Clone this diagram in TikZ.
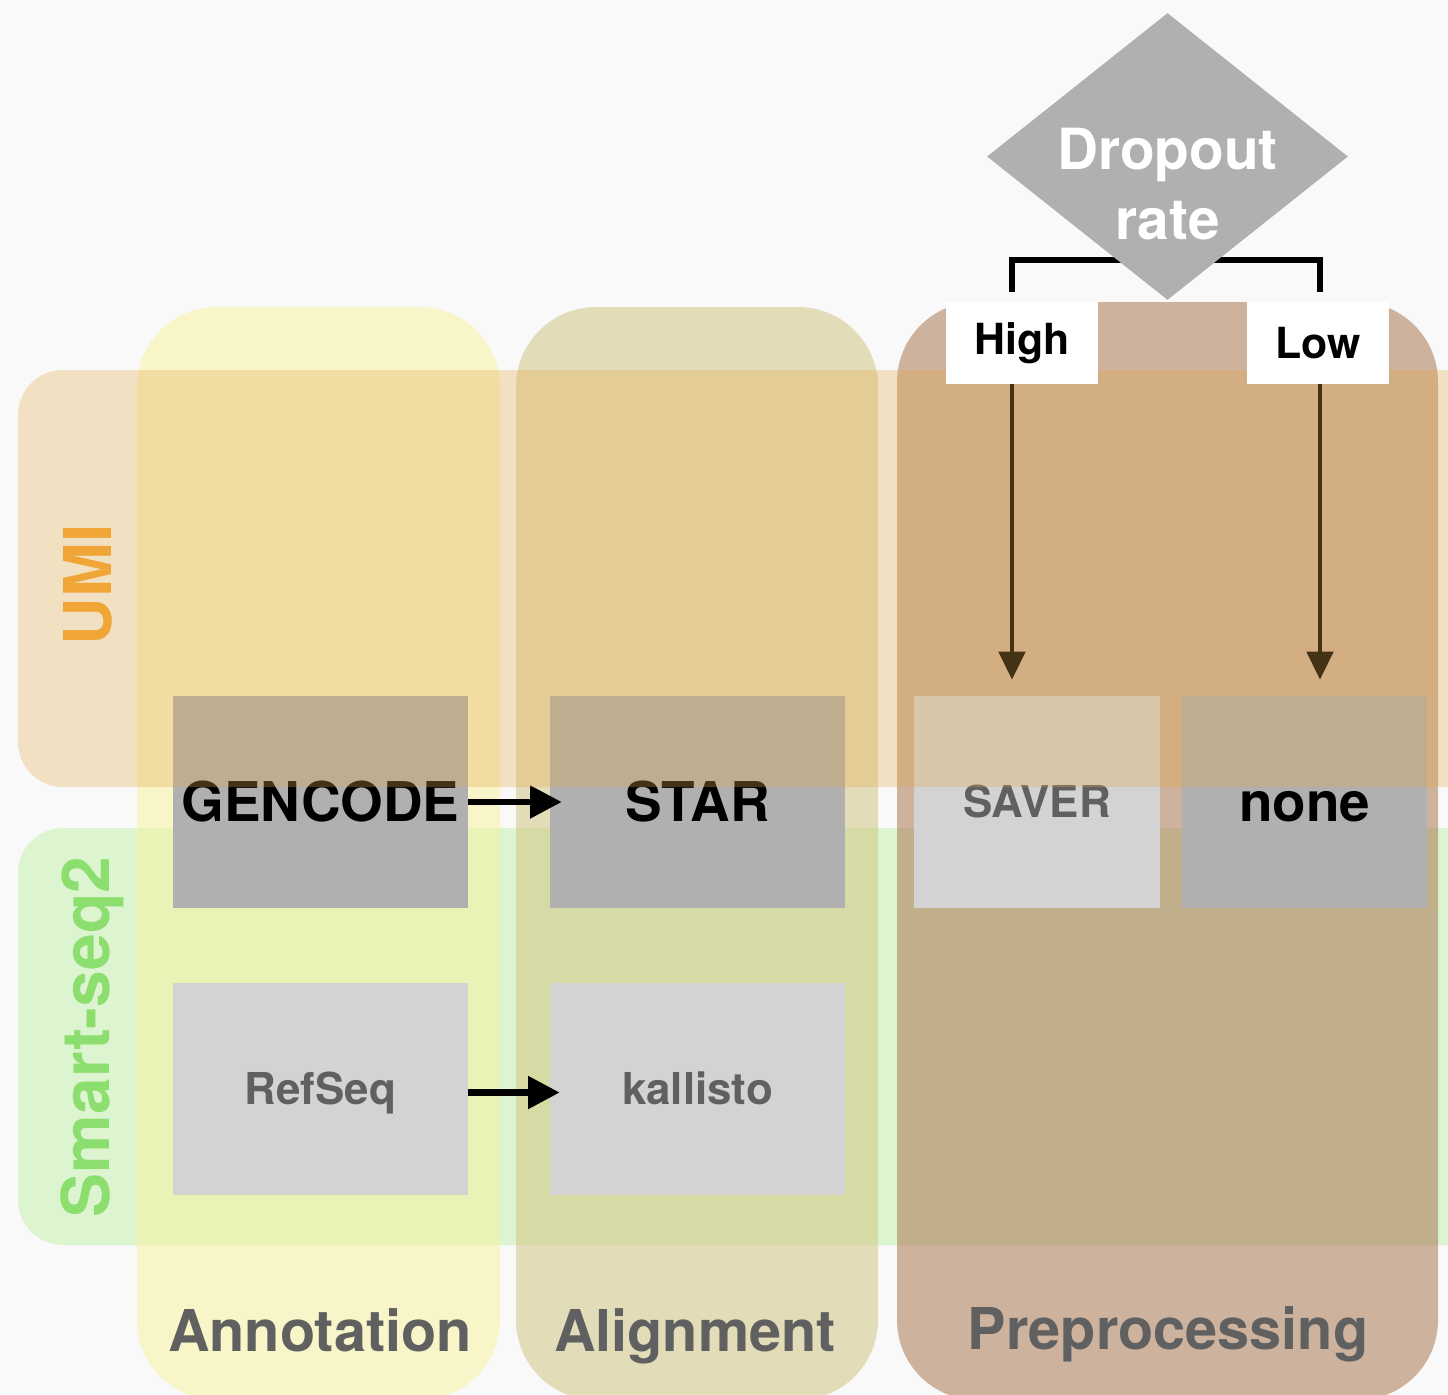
\documentclass[tikz,border=0pt]{standalone}
\usepackage{fontspec}
\setmainfont{TeX Gyre Heros}
\usepackage{xcolor}
\usepackage{tikz}
\usetikzlibrary{arrows.meta}
\usetikzlibrary{shapes.geometric}
\definecolor{bgcol}{RGB}{249,249,249}
\definecolor{umicol}{RGB}{228,168,72}
\definecolor{smartcol}{RGB}{220,244,208}
\definecolor{annocol}{RGB}{248,242,162}
\definecolor{aligncol}{RGB}{210,197,131}
\definecolor{prepcol}{RGB}{170,120,82}
\definecolor{darkbox}{RGB}{176,176,176}
\definecolor{lightbox}{RGB}{211,211,211}
\definecolor{labgray}{RGB}{96,96,96}
\definecolor{umitext}{RGB}{240,165,55}
\definecolor{smarttext}{RGB}{140,222,110}

\begin{document}
\begin{tikzpicture}[x=0.02cm, y=-0.02cm,
    column/.style={fill opacity=0.55, rounded corners=1.6cm},
    rowband/.style={rounded corners=0.9cm},
    toolbox/.style={rectangle, inner sep=0pt, minimum width=5.9cm, minimum height=4.24cm},
    prepbox/.style={toolbox, minimum width=4.92cm},
    bigtool/.style={font=\bfseries\fontsize{31.2}{36}\selectfont,
      text height=22.5pt, text depth=0pt},
    smalltool/.style={font=\bfseries\fontsize{25}{30}\selectfont, text=labgray,
      text height=18pt, text depth=0pt},
    steplabel/.style={font=\bfseries\fontsize{32.8}{38}\selectfont, text=labgray,
      text height=23.6pt, text depth=0pt},
    rowlabel/.style={font=\bfseries\fontsize{37.5}{42}\selectfont, rotate=90},
    ratebox/.style={rectangle, fill=white, inner sep=0pt, minimum height=1.64cm,
      font=\bfseries\fontsize{24.4}{28}\selectfont},
    toolarrow/.style={line width=3.6pt, -{Triangle[length=18pt, width=18pt]}},
    droparrow/.style={line width=2.3pt, -{Triangle[length=16pt, width=15pt]}},
    bracket/.style={line width=3.6pt, line join=miter}]
    \useasboundingbox (0,0) rectangle (1448,1394);
    \clip (0,0) rectangle (1448,1394);
    \fill[bgcol] (0,0) rectangle (1448,1394);

    % Smart-seq2 row
    \fill[smartcol, rowband] (18,828) rectangle (1550,1245);

    % pipeline steps
    \fill[annocol, column] (137,307) rectangle (500,1400);
    \fill[aligncol, column] (516,307) rectangle (878,1400);
    \fill[prepcol, column] (897,302) rectangle (1438,1400);

    \node[toolbox, fill=darkbox, bigtool] (gencode) at (320.5,802) {GENCODE};
    \node[toolbox, fill=darkbox, bigtool] (star) at (697.5,802) {STAR};
    \node[toolbox, fill=lightbox, smalltool] (refseq) at (320.5,1089) {RefSeq};
    \node[toolbox, fill=lightbox, smalltool] (kallisto) at (697.5,1089) {kallisto};
    \node[prepbox, fill=lightbox, smalltool] (saver) at (1037,802) {SAVER};
    \node[prepbox, fill=darkbox, bigtool] (none) at (1304.5,802) {none};

    \draw[toolarrow] (gencode.east) -- ([xshift=0.24cm]star.west);
    \draw[toolarrow] ([yshift=-2pt]refseq.east) -- ([xshift=0.2cm, yshift=-2pt]kallisto.west);

    \coordinate (brl) at (1012,260);
    \coordinate (brr) at (1320,260);
    \node[ratebox, minimum width=3.04cm] (high) at (1022,343) {};
    \node[ratebox, minimum width=2.84cm] (low) at (1318,343) {};
    \draw[droparrow] (high.south -| brl) -- ([yshift=0.32cm]saver.north -| brl);
    \draw[droparrow] (low.south -| brr) -- ([yshift=0.32cm]none.north -| brr);

    % UMI row, on top
    \fill[umicol, fill opacity=0.3, rowband] (18,370) rectangle (1550,787);

    \node[rowlabel, text=umitext] (umi) at (88,585) {UMI};
    \node[rowlabel, text=smarttext] (smart) at (92,1037) {Smart-seq2};

    \node[steplabel] (annot) at (320,1331) {Annotation};
    \node[steplabel] (align) at (695,1331) {Alignment};
    \node[steplabel] (prep) at (1168,1329) {Preprocessing};

    % dropout decision
    \draw[bracket] ([yshift=0.2cm]high.north -| brl) -- (brl) -- (brr)
      -- ([yshift=0.2cm]low.north -| brr);
    \node[diamond, fill=darkbox, inner sep=0pt, minimum width=7.22cm,
      minimum height=5.74cm] (dropout) at (1167.5,156.5) {};
    \node[align=center, text=white, font=\bfseries\fontsize{32.3}{39.5}\selectfont]
      (droptext) at (1167.5,184) {Dropout\\rate};
    \node[ratebox, minimum width=3.04cm] (hightext) at (high) {High};
    \node[ratebox, minimum width=2.84cm] (lowtext) at (low) {Low};
\end{tikzpicture}
\end{document}
